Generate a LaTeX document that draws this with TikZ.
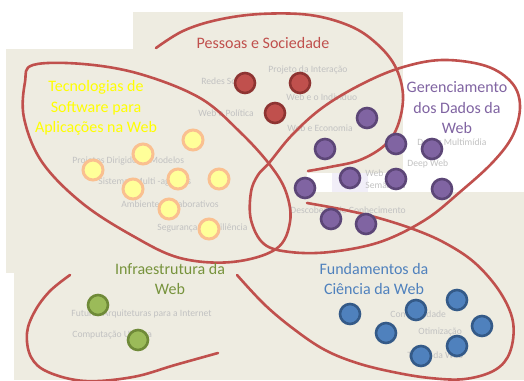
\documentclass[tikz,border=0pt]{standalone}
\usepackage{fontspec}
\setmainfont{Carlito}
\definecolor{bgtan}{HTML}{EEECE1}
\definecolor{lav}{HTML}{F1EEF8}
\definecolor{loopred}{HTML}{C0504D}
\definecolor{redfill}{HTML}{C0504D}
\definecolor{redbord}{HTML}{8E3432}
\definecolor{yelfill}{HTML}{FFFF99}
\definecolor{yelbord}{HTML}{FAC090}
\definecolor{purfill}{HTML}{8064A2}
\definecolor{purbord}{HTML}{5C4677}
\definecolor{grnfill}{HTML}{9BBB59}
\definecolor{grnbord}{HTML}{6F8A38}
\definecolor{blufill}{HTML}{4F81BD}
\definecolor{blubord}{HTML}{345A88}
\definecolor{labgray}{HTML}{C2C2C2}
\definecolor{ttlyel}{HTML}{FFFF00}
\definecolor{ttlpur}{HTML}{8064A2}
\definecolor{ttlgrn}{HTML}{77933C}
\definecolor{ttlblu}{HTML}{4F81BD}
\definecolor{ttlred}{HTML}{C0504D}
\tikzset{
  loopline/.style={draw=loopred, line width=1.3pt, line cap=round, line join=round},
  dot/.style={circle, minimum size=10pt, inner sep=0pt, line width=1.3pt},
  rdot/.style={dot, fill=redfill, draw=redbord},
  ydot/.style={dot, fill=yelfill, draw=yelbord, line width=1.5pt},
  pdot/.style={dot, fill=purfill, draw=purbord},
  gdot/.style={dot, fill=grnfill, draw=grnbord},
  bdot/.style={dot, fill=blufill, draw=blubord},
  lab/.style={text=labgray, font=\fontsize{4.8}{6}\selectfont, inner sep=0pt, anchor=west},
  ttl/.style={font=\fontsize{8}{10.25}\selectfont, align=center, inner sep=0pt}
}
\begin{document}
\begin{tikzpicture}[x=0.5pt,y=-0.5pt]
\useasboundingbox (0,0) rectangle (524,380);
\fill[white] (0,0) rectangle (524,380);
% background pieces
\fill[bgtan] (133,12) rectangle (403,173);
\fill[bgtan] (6,49) rectangle (307,273);
\fill[bgtan] (14,192) rectangle (524,380);
\fill[lav] (332,173) rectangle (368,192);

% gray labels
\node[lab] (l1) at (201,81) {Redes Sociais};
\node[lab] (l2) at (268,70) {Projeto da Interação};
\node[lab] (l3) at (286,97) {Web e o Indivíduo};
\node[lab] (l4) at (198,113) {Web e Política};
\node[lab] (l5) at (287,128) {Web e Economia};
\node[lab] (l6) at (72,161) {Projetos Dirigidos a Modelos};
\node[lab] (l7) at (98,182) {Sistemas Multi -agentes};
\node[lab] (l8) at (121,204) {Ambientes Colaborativos};
\node[lab] (l9) at (157,228) {Segurança e Resiliência};
\node[lab] (l10) at (417,142) {Dados Multimídia};
\node[lab] (l11) at (407,164) {Deep Web};
\node[lab, align=left] (l12) at (365,179) {Web\\Semântica};
\node[lab] (l13) at (290,210) {Descoberta de Conhecimento};
\node[lab] (l14) at (71,314) {Futuras Arquiteturas para a Internet};
\node[lab] (l15) at (72,335) {Computação Ubíqua};
\node[lab] (l16) at (390,315) {Complexidade};
\node[lab] (l17) at (418,332) {Otimização};
\node[lab] (l18) at (407,355) {Teoria da Web};

% loops
\draw[loopline] plot[smooth cycle, tension=0.6] coordinates {
  (33,65) (83,64) (140,74) (200,98) (240,132) (270,165) (286,192) (290,222)
  (276,249) (232,262) (180,258) (133,236) (82,203) (42,162) (24,118) (25,82)};
\draw[loopline] plot[smooth cycle, tension=0.6] coordinates {
  (269,163) (292,135) (322,108) (360,85) (400,68) (442,60) (486,66) (512,83)
  (520,106) (513,135) (493,162) (460,192) (425,220) (380,242) (330,252)
  (290,252) (264,244) (251,220) (251,192) (258,175)};
\draw[loopline] plot[smooth, tension=0.6] coordinates {
  (156,48) (183,31) (217,20) (260,14) (310,15) (350,26) (376,43) (395,66)
  (403,95) (398,125) (385,145) (360,160) (330,167) (308,171)};
\draw[loopline] plot[smooth, tension=0.6] coordinates {
  (307,203) (340,209) (375,217) (413,229) (445,243) (475,263) (500,292)
  (513,322) (510,352) (495,370) (465,379) (430,378) (393,372) (357,363)
  (325,350) (295,330) (265,305) (237,275)};
\draw[loopline] plot[smooth, tension=0.6] coordinates {
  (70,275) (50,291) (35,311) (27,333) (31,357) (48,372) (85,381) (133,377)
  (175,365) (218,353)};

% red dots
\node[rdot] (r1) at (245,83) {};
\node[rdot] (r2) at (300,83) {};
\node[rdot] (r3) at (275,113) {};
% yellow dots
\node[ydot] (y1) at (193,140) {};
\node[ydot] (y2) at (143,154) {};
\node[ydot] (y3) at (93,170) {};
\node[ydot] (y4) at (178,179) {};
\node[ydot] (y5) at (219,179) {};
\node[ydot] (y6) at (133,189) {};
\node[ydot] (y7) at (169,209) {};
\node[ydot] (y8) at (209,229) {};
% purple dots
\node[pdot] (p1) at (367,118) {};
\node[pdot] (p2) at (325,149) {};
\node[pdot] (p3) at (396,144) {};
\node[pdot] (p4) at (432,149) {};
\node[pdot] (p5) at (350,178) {};
\node[pdot] (p6) at (396,179) {};
\node[pdot] (p7) at (305,188) {};
\node[pdot] (p8) at (442,189) {};
\node[pdot] (p9) at (331,219) {};
\node[pdot] (p10) at (366,224) {};
% green dots
\node[gdot] (g1) at (98,305) {};
\node[gdot] (g2) at (138,340) {};
% blue dots
\node[bdot] (b1) at (350,314) {};
\node[bdot] (b2) at (416,310) {};
\node[bdot] (b3) at (457,300) {};
\node[bdot] (b4) at (386,333) {};
\node[bdot] (b5) at (482,326) {};
\node[bdot] (b6) at (457,346) {};
\node[bdot] (b7) at (421,356) {};

% titles
\node[ttl, text=ttlred] (t1) at (263,43) {Pessoas e Sociedade};
\node[ttl, text=ttlyel] (t2) at (96,108) {Tecnologias de\\Software para\\Aplicações na Web};
\node[ttl, text=ttlpur] (t3) at (457,108) {Gerenciamento\\dos Dados da\\Web};
\node[ttl, text=ttlgrn] (t4) at (170,279) {Infraestrutura da\\Web};
\node[ttl, text=ttlblu] (t5) at (374,279) {Fundamentos da\\Ciência da Web};
\end{tikzpicture}
\end{document}
